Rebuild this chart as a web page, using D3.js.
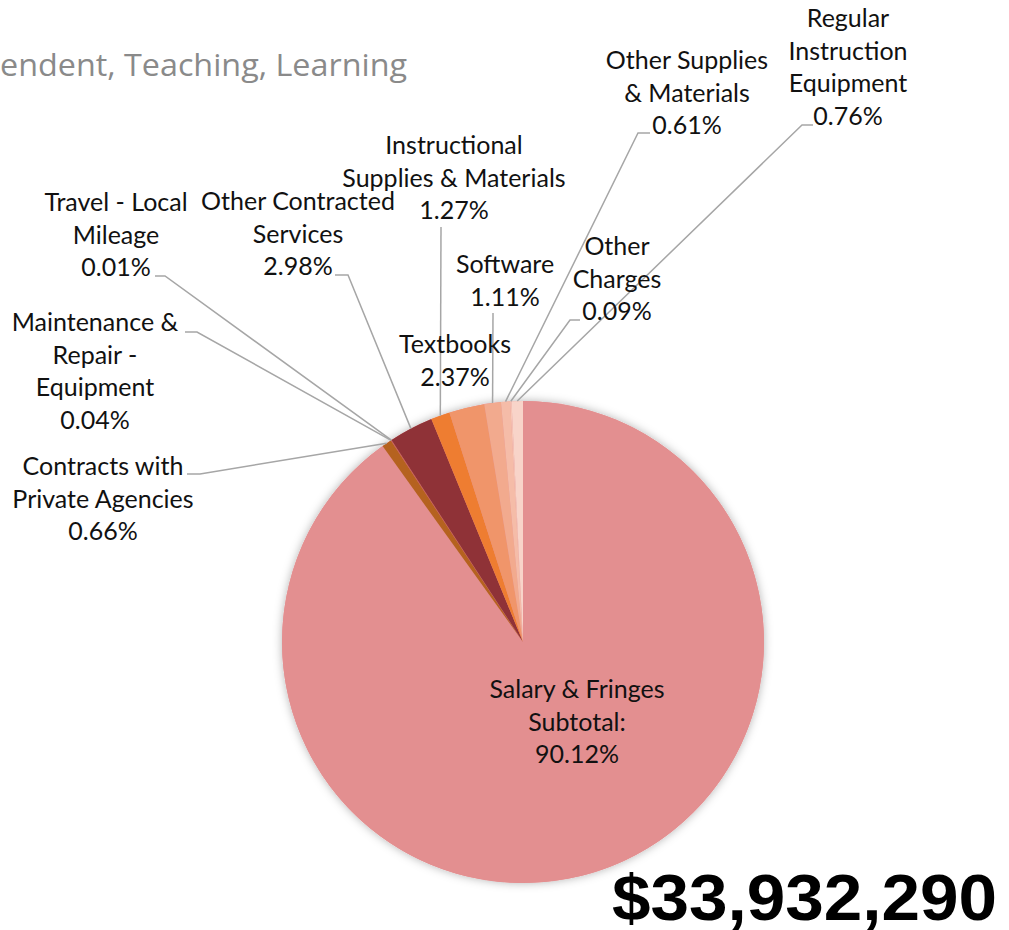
<!DOCTYPE html>
<html>
<head>
<meta charset="utf-8">
<script src="https://cdn.jsdelivr.net/npm/d3@7"></script>
<style>
  html, body { margin: 0; padding: 0; background: #fff; }
  svg { display: block; }
  .lbl { font-family: Lato, "Noto Sans", sans-serif; font-size: 25px; fill: #111; }
  .leader { fill: none; stroke: #a6a6a6; stroke-width: 1.5; }
</style>
</head>
<body>
<svg id="chart" width="1009" height="930"></svg>
<script>
// slices, clockwise from 12 o'clock
var categories = [
  "Salary & Fringes Subtotal:", "Contracts with Private Agencies",
  "Maintenance & Repair - Equipment", "Travel - Local Mileage",
  "Other Contracted Services", "Instructional Supplies & Materials",
  "Textbooks", "Software", "Other Supplies & Materials",
  "Other Charges", "Regular Instruction Equipment"
];
var shares = [90.12, 0.66, 0.04, 0.01, 2.98, 1.27, 2.37, 1.11, 0.61, 0.09, 0.76];
var label_lines = [
  ["Salary & Fringes", "Subtotal:"], ["Contracts with", "Private Agencies"],
  ["Maintenance &", "Repair -", "Equipment"], ["Travel - Local", "Mileage"],
  ["Other Contracted", "Services"], ["Instructional", "Supplies & Materials"],
  ["Textbooks"], ["Software"], ["Other Supplies", "& Materials"],
  ["Other", "Charges"], ["Regular", "Instruction", "Equipment"]
];
var title_text = "endent, Teaching, Learning";
var total_text = "$33,932,290";

var colors = ["#e38f90", "#b5621f", "#c0504d", "#d46a4a", "#8f3237", "#ee7d31",
              "#f0956a", "#f2aa8e", "#f5bca8", "#f7c8b8", "#f8d4c9"];

// label layout (centre x, first line y) and leader start / elbow
var label_at = [[577,690],[103,467],[95,323],[116,203],[298,202],[454,146],
                [455,345],[505,265],[687,61],[617,247],[848,19]];
var leader_from = [null, [187,474,200], [185,332,197], [155,276,165], [335,275,348],
                   [441,227,441], null, [493,313,493], [650,133,638], [580,320,570], [813,125,802]];

var cx = 523, cy = 642, r = 241, line_h = 32.5;

var svg = d3.select('#chart');

var defs = svg.append('defs');
var f = defs.append('filter').attr('id', 'shadow')
  .attr('x', '-20%').attr('y', '-20%').attr('width', '140%').attr('height', '140%');
f.append('feDropShadow').attr('dx', 0).attr('dy', 0).attr('stdDeviation', 5)
  .attr('flood-color', '#000').attr('flood-opacity', 0.3);

svg.append('text')
  .attr('x', 0).attr('y', 76)
  .attr('textLength', 407).attr('lengthAdjust', 'spacingAndGlyphs')
  .style('font-family', '"Open Sans", sans-serif')
  .style('font-size', '31px')
  .style('fill', '#8a8a8a')
  .text(title_text);

var pie = d3.pie().sort(null).value((d) => d);
var arcs = pie(shares);

var arc = d3.arc().innerRadius(0).outerRadius(r);
var edge = d3.arc().innerRadius(r).outerRadius(r);

var gph = svg.append('g').attr('transform', `translate(${cx}, ${cy})`);

gph.append('circle').attr('r', r).attr('fill', colors[0]).attr('filter', 'url(#shadow)');

gph.selectAll('path.slice')
  .data(arcs)
  .enter()
  .append('path')
  .attr('class', 'slice')
  .attr('d', arc)
  .attr('fill', (d,i) => colors[i]);

// leader lines
arcs.forEach((d,i) => {
  var lf = leader_from[i];
  if (!lf) return;
  var p = edge.centroid(d);
  var pts = [[lf[0], lf[1]], [lf[2], lf[1]], [cx + p[0], cy + p[1]]];
  svg.append('path')
    .attr('class', 'leader')
    .attr('d', d3.line()(pts));
});

// labels
categories.forEach((c,i) => {
  var lines = label_lines[i].concat([shares[i].toFixed(2) + '%']);
  var t = svg.append('text')
    .attr('class', 'lbl')
    .attr('text-anchor', 'middle');
  lines.forEach((s,j) => {
    t.append('tspan')
      .attr('x', label_at[i][0])
      .attr('y', label_at[i][1] + j * line_h + 8)
      .text(s);
  });
});

svg.append('text')
  .attr('x', 612).attr('y', 920)
  .attr('textLength', 385).attr('lengthAdjust', 'spacingAndGlyphs')
  .style('font-family', '"Liberation Sans", Arial, sans-serif')
  .style('font-weight', 'bold')
  .style('font-size', '64px')
  .style('fill', '#000')
  .text(total_text);
</script>
</body>
</html>
